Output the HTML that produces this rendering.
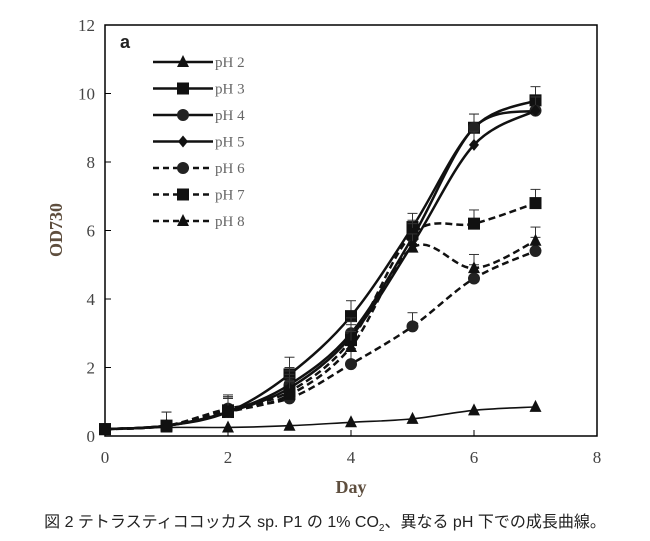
<!DOCTYPE html>
<html><head><meta charset="utf-8">
<style>
body{margin:0;background:#fff;width:650px;height:541px;overflow:hidden;font-family:"Liberation Serif",serif}
#cap{position:absolute;left:0;top:508px;width:650px;text-align:center;font-family:"Liberation Sans","Noto Sans CJK JP",sans-serif;font-size:16px;color:#222;white-space:nowrap}
</style></head><body>
<svg id="chart" width="650" height="500" style="position:absolute;left:0;top:0"></svg>
<div id="cap">図 2 テトラスティココッカス sp. P1 の 1% CO<sub style="font-size:10px">2</sub>、異なる pH 下での成長曲線。</div>
<script>
const days=[0,1,2,3,4,5,6,7];
const xTicks=[0,2,4,6,8];
const yTicks=[0,2,4,6,8,10,12];
const seriesNames=["pH 2","pH 3","pH 4","pH 5","pH 6","pH 7","pH 8"];
const pH2=[0.2,0.25,0.25,0.3,0.4,0.5,0.75,0.85];
const pH3=[0.2,0.3,0.7,1.8,3.5,6.1,9.0,9.8];
const pH4=[0.2,0.3,0.7,1.5,3.0,5.8,9.0,9.5];
const pH5=[0.2,0.3,0.7,1.4,2.9,5.6,8.5,9.5];
const pH6=[0.2,0.3,0.8,1.1,2.1,3.2,4.6,5.4];
const pH7=[0.2,0.3,0.75,1.3,2.8,5.9,6.2,6.8];
const pH8=[0.2,0.3,0.7,1.2,2.6,5.5,4.9,5.7];
const errs=[0.1,0.4,0.4,0.5,0.45,0.4,0.4,0.4];
const series=[pH2,pH3,pH4,pH5,pH6,pH7,pH8];
const dashed=[false,false,false,false,true,true,true];
const markers=["tri","sq","circ","dia","circ","sq","tri"];
const NS="http://www.w3.org/2000/svg";
const svg=document.getElementById('chart');
const L=105,R=597,T=25,B=436;
const x=d=>L+(R-L)*d/8, y=v=>B-(B-T)*v/12;
function mk(t,a,p){const e=document.createElementNS(NS,t);for(const k in a)e.setAttribute(k,a[k]);(p||svg).appendChild(e);return e;}
const frame=mk('rect',{x:L,y:T,width:R-L,height:B-T,fill:'none',stroke:'#000','stroke-width':1.5});


yTicks.forEach(v=>{mk('line',{x1:L,x2:L+6,y1:y(v),y2:y(v),stroke:'#000'});
const t=mk('text',{x:L-10,y:y(v)+6,'text-anchor':'end','font-size':17,fill:'#444'});t.textContent=v;

});
xTicks.forEach(v=>{mk('line',{x1:x(v),x2:x(v),y1:B,y2:B-6,stroke:'#000'});
const t=mk('text',{x:x(v),y:B+27,'text-anchor':'middle','font-size':17,fill:'#444'});t.textContent=v;

});
const xt=mk('text',{x:351,y:493,'text-anchor':'middle','font-size':18,'font-weight':'bold',fill:'#5e4e3e'});xt.textContent='Day';


const yt=mk('text',{x:0,y:0,'text-anchor':'middle','font-size':18,'font-weight':'bold',fill:'#5e4e3e',transform:'translate(62,230) rotate(-90)'});yt.textContent='OD730';


const pl=mk('text',{x:120,y:48,'font-size':18,'font-weight':'bold',fill:'#222','font-family':'Liberation Sans'});pl.textContent='a';


function marker(g,type,cx,cy){const s=6;
if(type==='sq')mk('rect',{x:cx-s,y:cy-s,width:2*s,height:2*s,fill:'#111'},g);
else if(type==='circ')mk('circle',{cx,cy,r:s,fill:'#222'},g);
else if(type==='tri')mk('polygon',{points:`${cx},${cy-s-1} ${cx-s},${cy+s-1} ${cx+s},${cy+s-1}`,fill:'#111'},g);
else mk('polygon',{points:`${cx},${cy-s} ${cx-s+1},${cy} ${cx},${cy+s} ${cx+s-1},${cy}`,fill:'#111'},g);}
function path(pts){let d=`M${pts[0][0]},${pts[0][1]}`;for(let i=0;i<pts.length-1;i++){const p0=pts[i-1]||pts[i],p1=pts[i],p2=pts[i+1],p3=pts[i+2]||p2;
d+=` C${p1[0]+(p2[0]-p0[0])/6},${p1[1]+(p2[1]-p0[1])/6} ${p2[0]-(p3[0]-p1[0])/6},${p2[1]-(p3[1]-p1[1])/6} ${p2[0]},${p2[1]}`;}return d;}
series.forEach((s,i)=>{const g=mk('g',{});


const pts=days.map((d,j)=>[x(d),y(s[j])]);
mk('path',{d:path(pts),fill:'none',stroke:'#111','stroke-width':i===0?1.6:2.5,'stroke-dasharray':dashed[i]?'7,4':'none'},g);
days.forEach((d,j)=>{if(i>0&&j>0){const e=errs[j];mk('line',{x1:x(d),x2:x(d),y1:y(s[j]),y2:y(s[j]+e),stroke:'#333'},g);mk('line',{x1:x(d)-5,x2:x(d)+5,y1:y(s[j]+e),y2:y(s[j]+e),stroke:'#333'},g);}
marker(g,markers[i],x(d),y(s[j]));});});
seriesNames.forEach((n,i)=>{const g=mk('g',{});


const ly=62+i*26.5;
mk('line',{x1:153,x2:213,y1:ly,y2:ly,stroke:'#111','stroke-width':2.5,'stroke-dasharray':dashed[i]?'6,4':'none'},g);
marker(g,markers[i],183,ly);
const t=mk('text',{x:215,y:ly+5,'font-size':15,fill:'#666'},g);t.textContent=n;});
</script>
</body></html>
